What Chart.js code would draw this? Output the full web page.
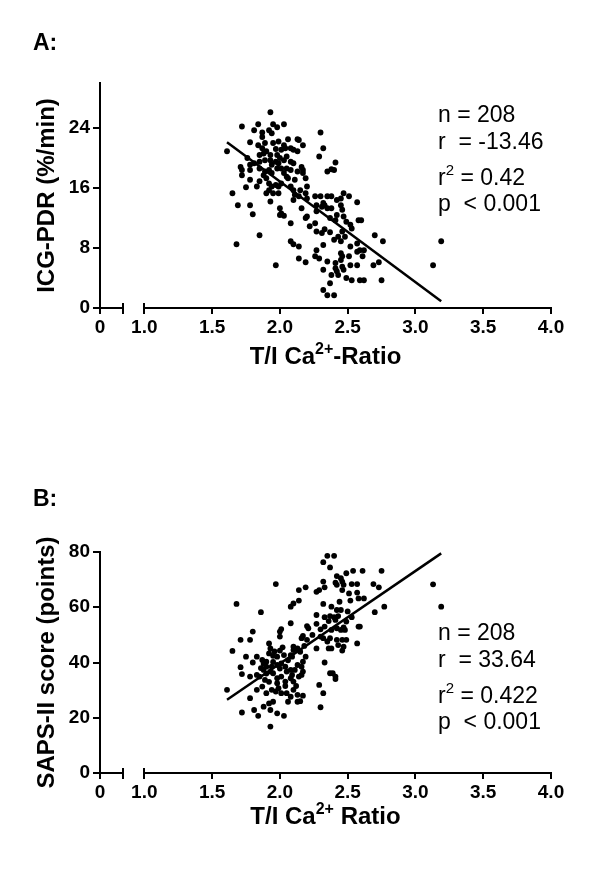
<!DOCTYPE html>
<html><head><meta charset="utf-8">
<script src="https://cdn.jsdelivr.net/npm/chart.js@4.4.1/dist/chart.umd.min.js"></script>
<style>
html,body{margin:0;padding:0;background:#fff;}
#wrap{position:relative;width:600px;height:869px;overflow:hidden;}
canvas{position:absolute;left:0;}
</style></head><body>
<div id="wrap">
<canvas id="cA" width="600" height="434" style="top:0"></canvas>
<canvas id="cB" width="600" height="435" style="top:434px"></canvas>
</div>
<script>
// ---------------- DATA ----------------
// x-axis tick values (0 is shown before an axis break)
const xTicks = [0, 1.0, 1.5, 2.0, 2.5, 3.0, 3.5, 4.0];
const yTicksA = [0, 8, 16, 24];
const yTicksB = [0, 20, 40, 60, 80];

// Panel A: T/I Ca2+ ratio vs ICG-PDR (%/min)
const pointsA = [
[1.93,26.1],[1.72,24.2],[1.84,24.5],[1.95,24.5],[2.03,24.5],[1.98,24.1],[1.81,23.7],[1.87,23.4],[1.92,23.7],[1.94,23.3],[1.87,22.8],[2.30,23.4],[1.61,20.9],[1.78,22.1],[1.84,21.7],[1.89,22.0],[1.95,22.0],[1.99,22.2],[2.03,21.7],[2.06,22.5],[2.13,22.5],[2.14,22.4],[2.17,21.7],[1.87,21.3],[1.90,20.9],[1.97,21.2],[2.01,21.1],[2.04,21.3],[2.08,21.3],[2.10,21.1],[2.13,20.9],[2.32,21.3],
[1.71,18.8],[1.72,18.4],[1.72,17.7],[1.78,19.1],[1.81,19.3],[1.85,19.5],[1.89,19.7],[1.93,19.7],[1.97,19.5],[2.00,20.0],[2.03,19.7],[2.05,20.2],[2.08,19.5],[2.10,19.3],[2.16,18.8],[2.17,18.4],[2.29,20.2],[2.41,19.4],[2.38,18.5],[2.35,18.2],[2.40,18.4],
[1.85,18.6],[1.89,18.2],[1.92,18.4],[1.94,18.0],[1.98,18.6],[2.01,18.6],[2.05,18.6],[2.08,18.4],[2.13,18.2],
[1.85,16.9],[1.78,17.1],[1.83,16.2],[1.90,17.3],[1.92,16.6],[1.94,16.2],[1.97,16.4],[1.99,16.2],[2.01,16.6],[2.06,17.3],[2.11,17.1],[2.17,18.0],[2.19,17.3],
[1.75,16.1],[1.65,15.3],[1.69,13.7],[1.78,13.7],[1.80,12.5],[1.85,9.7],[1.68,8.5],[1.97,5.7],
[1.90,15.3],[1.95,15.3],[1.99,15.3],[2.10,15.7],[2.11,15.1],[2.14,14.9],[2.19,15.3],[2.20,14.6],[2.26,14.9],[2.30,14.9],[2.32,14.0],[2.35,14.9],[2.38,14.9],[2.42,14.4],[2.45,14.6],[2.47,15.3],[2.51,14.9],[2.57,14.1],
[1.93,14.2],[2.00,13.3],[2.01,12.6],[2.00,12.4],[2.03,12.3],[2.08,11.3],[2.16,13.3],[2.19,12.0],[2.20,12.2],[2.26,11.3],[2.27,10.2],[2.31,13.5],[2.33,13.7],[2.35,13.3],[2.38,13.3],[2.41,11.7],[2.42,12.4],[2.45,13.7],[2.46,13.1],[2.47,12.2],[2.49,11.5],[2.52,11.1],[2.53,10.6],[2.58,11.7],[2.60,11.7],
[2.08,8.9],[2.10,8.5],[2.14,8.2],[2.14,6.6],[2.19,6.1],[2.27,7.7],[2.31,10.0],[2.33,10.5],[2.37,10.1],[2.43,9.5],[2.46,10.2],[2.45,8.9],[2.40,9.1],[2.32,8.4],
[2.26,6.9],[2.29,6.6],[2.32,5.1],[2.35,6.2],[2.41,6.0],[2.45,6.4],[2.46,5.5],[2.47,5.1],[2.42,4.9],[2.43,4.4],[2.46,6.9],[2.52,8.2],[2.57,7.5],[2.62,7.7],[2.59,7.7],[2.52,5.7],[2.57,5.7],[2.61,6.9],
[2.53,3.7],[2.59,3.7],[2.62,3.7],[2.49,4.0],[2.41,5.3],[2.69,5.7],[2.73,6.1],[2.70,9.7],[2.76,8.9],[2.75,3.7],
[2.32,2.4],[2.37,3.3],[2.35,1.7],[2.40,1.7],[3.13,5.7],[3.19,8.9],[2.45,7.3],[2.51,6.9],
[1.88,20.6],[1.93,20.4],[1.98,20.4],[1.94,19.1],[1.99,19.3],[1.88,17.7],[2.03,18.0],[2.05,17.5],[2.08,16.2],[2.10,14.4],[2.15,15.7],[2.37,12.0],[2.22,10.9],[2.48,9.5],[2.27,12.9],[2.38,4.4],[1.78,18.4],[1.76,20.0],[2.20,16.2],[1.92,15.7],[2.57,8.6],[2.27,13.7],[1.85,20.4]
];
const fitA = [[1.61, 22.1], [3.19, 0.9]];

// Panel B: T/I Ca2+ ratio vs SAPS-II score (points)
const pointsB = [
[2.35,78.6],[2.40,78.6],[2.32,76.3],[2.37,74.4],[1.97,68.4],[2.54,73.2],[2.61,73.2],[2.75,73.2],[2.49,72.3],[2.42,71.3],[2.45,70.5],[2.46,69.3],[2.41,68.9],[2.42,68.1],[2.47,68.1],[2.53,68.4],[2.57,68.4],[2.69,68.4],[2.73,67.2],[3.13,68.3],
[2.19,67.2],[2.14,66.2],[2.27,65.6],[2.29,66.2],[2.33,67.2],[2.32,69.3],[2.46,66.2],[2.51,65.0],[2.57,65.3],[2.58,63.2],[2.62,63.2],[2.52,62.4],
[1.68,61.2],[2.14,62.4],[2.10,61.4],[2.08,60.2],[2.32,61.2],[2.38,60.2],[2.42,59.0],[2.45,59.0],[2.40,56.4],
[1.86,58.2],[2.27,57.2],[2.33,56.4],[2.37,56.8],[2.43,56.8],[2.53,56.4],[2.49,54.8],[2.47,52.7],[2.42,52.4],[2.41,55.4],
[2.77,60.2],[2.70,58.2],[3.19,60.2],
[2.08,54.2],[2.01,52.1],[2.00,51.2],[2.00,49.4],[2.20,53.2],[2.21,52.4],[2.17,49.6],[2.16,48.8],
[2.27,54.0],[2.33,53.0],[2.38,51.8],[2.45,51.8],[2.48,51.8],[2.58,53.0],[2.59,53.0],
[1.80,51.2],[1.71,48.2],[1.78,48.2],[1.92,46.9],[1.93,45.1],[2.10,45.7],[2.13,45.1],[2.20,48.2],
[2.30,49.4],[2.32,48.8],[2.35,47.6],[2.37,48.8],[2.42,48.2],[2.43,46.3],[2.46,48.2],[2.49,48.2],[2.47,45.7],[2.57,46.9],[2.46,44.3],[2.27,45.1],[2.36,45.1],[2.38,45.1],
[1.65,44.2],[1.75,42.1],[1.83,42.1],[1.87,40.9],[1.90,40.3],[1.92,43.3],[1.95,42.4],[1.98,42.1],[2.00,44.3],[2.03,42.7],[2.08,42.7],[2.09,42.1],[2.10,44.5],[2.15,43.9],[2.17,40.3],[2.19,42.1],
[1.71,38.3],[1.72,35.8],[1.78,34.9],[1.83,35.5],[1.88,37.3],[1.90,38.5],[1.94,38.5],[1.98,39.1],[2.01,39.7],[2.04,38.5],[2.05,36.7],[2.08,37.3],[2.11,37.3],[2.13,39.1],[2.16,38.5],[2.17,36.7],
[1.85,34.9],[1.89,33.7],[1.93,36.7],[1.95,36.1],[1.98,34.3],[2.01,34.9],[2.04,33.1],[2.08,34.3],[2.10,33.1],[2.14,34.9],[2.16,35.5],
[2.33,40.0],[2.37,36.1],[2.41,34.9],[2.39,36.1],[2.41,34.0],
[1.61,30.1],[1.78,27.1],[1.83,30.1],[1.87,31.3],[1.90,28.9],[1.94,30.1],[1.97,29.5],[1.99,30.7],[2.01,28.9],[2.05,28.9],[2.08,27.6],[2.10,30.1],[2.13,28.3],[2.17,28.0],[2.06,25.8],[2.13,25.8],[2.15,26.0],
[2.29,31.9],[2.32,28.9],[2.30,23.8],
[1.72,21.9],[1.81,22.8],[1.84,20.7],[1.88,24.0],[1.92,25.2],[1.93,22.8],[1.95,25.8],[1.98,21.6],[2.03,20.7],[1.93,16.8],
[1.88,39.5],[1.95,40.2],[2.00,37.8],[1.90,36.0],[2.06,40.8],[1.98,32.5],[2.04,31.5],[1.92,33.0],[2.12,31.5],[1.86,38.0],[2.09,35.5],[1.96,44.0],[2.02,45.5],[2.18,46.0],[2.24,50.0],[2.30,52.0],[2.36,55.0],[2.44,62.0],[2.50,58.5],[1.80,40.0]
];
const fitB = [[1.61, 26.5], [3.19, 79.5]];

// Texts
const notesA = ['n = 208', 'r  = -13.46', 'r^{2} = 0.42', 'p  < 0.001'];
const notesB = ['n = 208', 'r  = 33.64', 'r^{2} = 0.422', 'p  < 0.001'];

// ---------------- LAYOUT / STYLE ----------------
const FONT = "'Liberation Sans', Arial, Helvetica, sans-serif";
const X_LEFT = 0.673;      // axis value at the y-axis (shown as "0")
const X_BREAK_END = 0.84;  // end of the short first segment
const X_RESUME = 1.0;      // start of the main segment
const X_MAX = 4.0;

function parseRich(s){
  const parts=[]; const re=/\^\{([^}]*)\}/g; let last=0, m;
  while((m=re.exec(s))){ if(m.index>last) parts.push({t:s.slice(last,m.index)}); parts.push({t:m[1],sup:true}); last=re.lastIndex; }
  if(last<s.length) parts.push({t:s.slice(last)});
  return parts;
}
function drawRich(ctx, s, x, y, size, weight, align){
  const parts = parseRich(s);
  const main = `${weight} ${size}px ${FONT}`;
  const sup = `${weight} ${Math.round(size*0.66)}px ${FONT}`;
  let w=0; parts.forEach(p=>{ctx.font=p.sup?sup:main; w+=ctx.measureText(p.t).width;});
  let cx = align==='center' ? x-w/2 : x;
  ctx.textAlign='left'; ctx.textBaseline='alphabetic'; ctx.fillStyle='#000';
  parts.forEach(p=>{ctx.font=p.sup?sup:main; ctx.fillText(p.t, cx, p.sup ? y-size*0.42 : y); cx+=ctx.measureText(p.t).width;});
}

const decor = {
  id:'decor',
  afterDraw(chart, args, o){
    const ctx=chart.ctx, xs=chart.scales.x, ys=chart.scales.y;
    const y0 = ys.getPixelForValue(0);
    ctx.save();
    ctx.strokeStyle='#000'; ctx.lineWidth=2; ctx.lineCap='butt';
    const seg=(a,b)=>{ctx.beginPath();ctx.moveTo(xs.getPixelForValue(a)-1,y0);ctx.lineTo(xs.getPixelForValue(b)+1,y0);ctx.stroke();};
    seg(X_LEFT, X_BREAK_END); seg(X_RESUME, X_MAX);
    const bar=v=>{const px=Math.round(xs.getPixelForValue(v)); ctx.beginPath(); ctx.moveTo(px,y0-5); ctx.lineTo(px,y0+6); ctx.stroke();};
    bar(X_BREAK_END); bar(X_RESUME);
    // panel letter
    drawRich(ctx, o.letter, 33, o.letterBase, 23, 'bold', 'left');
    // x-axis title
    const ca=chart.chartArea;
    drawRich(ctx, o.xTitle, (ca.left+ca.right)/2, y0+o.xTitleOff, 24, 'bold', 'center');
    // statistics
    o.notes.forEach((t,i)=>drawRich(ctx, t, 438, o.notesBase+o.noteOffs[i], 23, 'normal', 'left'));
    ctx.restore();
  }
};

function makeChart(id, cfg){
  const canvas=document.getElementById(id);
  const H=canvas.height;
  return new Chart(canvas.getContext('2d'), {
    data:{datasets:[
      {type:'scatter', data:cfg.points.map(p=>({x:p[0],y:p[1]})), backgroundColor:'#000', borderWidth:0, pointRadius:2.9, pointHoverRadius:2.9},
      {type:'line', data:cfg.fit.map(p=>({x:p[0],y:p[1]})), borderColor:'#000', borderWidth:2.5, pointRadius:0, fill:false, tension:0}
    ]},
    options:{
      responsive:false, devicePixelRatio:1, animation:false,
      layout:{padding:{top:cfg.top, right:49, left:0, bottom:0}},
      plugins:{legend:{display:false}, tooltip:{enabled:false}, decor:cfg.decor},
      events:[],
      scales:{
        x:{type:'linear', position:'bottom', min:X_LEFT, max:X_MAX,
           afterFit:s=>{s.height=H-cfg.bottom;},
           afterBuildTicks:s=>{s.ticks=xTicks.map(v=>({value: v===0 ? X_LEFT : v}));},
           border:{display:false},
           grid:{display:true, drawOnChartArea:false, drawTicks:true, tickLength:6, color:'#000', lineWidth:2},
           ticks:{color:'#000', padding:2, maxRotation:0, autoSkip:false, font:{family:FONT, size:19, weight:'bold'},
                  callback:v=> v<X_RESUME ? '0' : v.toFixed(1)}
        },
        y:{type:'linear', position:'left', min:0, max:cfg.yMax,
           afterFit:s=>{s.width=100;},
           afterBuildTicks:s=>{s.ticks=cfg.yTicks.map(v=>({value:v}));},
           border:{display:true, color:'#000', width:2},
           grid:{display:true, drawOnChartArea:false, drawTicks:true, tickLength:7, color:'#000', lineWidth:2},
           ticks:{color:'#000', padding:3, font:{family:FONT, size:19, weight:'bold'}},
           title:{display:true, text:cfg.yTitle, color:'#000', font:{family:FONT, size:24, weight:'bold'}, padding:{top:33, bottom:0}}
        }
      }
    },
    plugins:[decor]
  });
}

const noteOffs=[0, 26.5, 63, 89];
makeChart('cA', {points:pointsA, fit:fitA, yMax:30, yTicks:yTicksA, top:83, bottom:308, yTitle:'ICG-PDR (%/min)',
  decor:{letter:'A:', letterBase:50, xTitle:'T/I Ca^{2+}-Ratio', xTitleOff:56, notes:notesA, notesBase:122, noteOffs}});
makeChart('cB', {points:pointsB, fit:fitB, yMax:80, yTicks:yTicksB, top:118, bottom:339, yTitle:'SAPS-II score (points)',
  decor:{letter:'B:', letterBase:72, xTitle:'T/I Ca^{2+} Ratio', xTitleOff:51, notes:notesB, notesBase:206, noteOffs}});
</script>
</body></html>
